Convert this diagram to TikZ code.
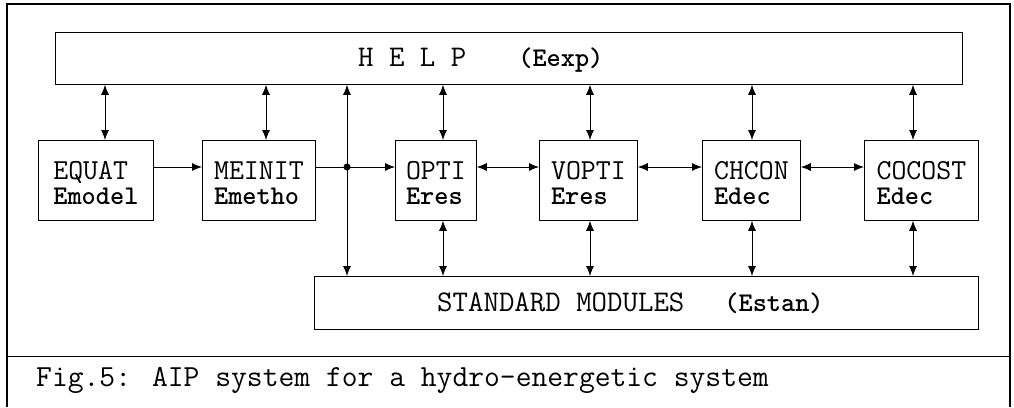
\documentclass[tikz,border=0pt]{standalone}
\usetikzlibrary{arrows.meta}
\begin{document}
\begin{tikzpicture}[x=1pt,y=-1pt,
  box/.style={draw, line width=0.8pt, inner sep=0pt, anchor=north west, align=left, font=\ttfamily\fontsize{29}{31}\selectfont},
  wide/.style={draw, line width=0.8pt, inner sep=0pt, anchor=north west},
  con/.style={line width=0.8pt, {Latex[length=10pt,width=8pt]}-{Latex[length=10pt,width=8pt]}},
  one/.style={line width=0.8pt, -{Latex[length=10pt,width=8pt]}},
  frame/.style={line width=1.4pt},
  lbl/.style={anchor=west, inner sep=0pt, font=\ttfamily\fontsize{30}{32}\selectfont},
  subt/.style={font=\ttfamily\bfseries\fontsize{27}{29}\selectfont}]
\useasboundingbox (0,0) rectangle (1014,407);
% outer frame
\coordinate (ftl) at (7,4);
\coordinate (ftr) at (1010,4);
\coordinate (fbl) at (7,407);
\coordinate (fbr) at (1010,407);
\coordinate (sl) at (7,356);
\coordinate (sr) at (1010,356);
\draw[frame] (fbl) -- (ftl) -- (ftr) -- (fbr);
\draw[line width=0.8pt] (sl) -- (sr);
% help and standard boxes
\node[wide, minimum width=907, minimum height=52] (help) at (55,32) {};
\node[lbl] (helpt) at (358,60) {H E L P\hspace{52pt}{\bfseries\fontsize{27}{29}\selectfont(Eexp)}};
\node[wide, minimum width=664, minimum height=53] (std) at (314,276) {};
\node[lbl] (stdt) at (437,303) {STANDARD MODULES\hspace{40pt}{\bfseries\fontsize{27}{29}\selectfont(Estan)}};
% module boxes
\node[box, minimum width=115, minimum height=80] (equat) at (38,140) {\rule{0pt}{24pt}EQUAT\\[-6pt]\bfseries\fontsize{27}{29}\selectfont Emodel};
\node[box, minimum width=113, minimum height=80] (meinit) at (202,140) {\rule{0pt}{24pt}MEINIT\\[-6pt]\bfseries\fontsize{27}{29}\selectfont Emetho};
\node[box, minimum width=81, minimum height=80] (opti) at (395,140) {\rule{0pt}{24pt}OPTI\\[-6pt]\bfseries\fontsize{27}{29}\selectfont Eres};
\node[box, minimum width=98, minimum height=80] (vopti) at (539,140) {\rule{0pt}{24pt}VOPTI\\[-6pt]\bfseries\fontsize{27}{29}\selectfont Eres\hspace{16pt}};
\node[box, minimum width=98, minimum height=80] (chcon) at (702,140) {\rule{0pt}{24pt}CHCON\\[-6pt]\bfseries\fontsize{27}{29}\selectfont Edec\hspace{16pt}};
\node[box, minimum width=114, minimum height=80] (cocost) at (864,140) {\rule{0pt}{24pt}COCOST\\[-6pt]\bfseries\fontsize{27}{29}\selectfont Edec\hspace{32pt}};
% x positions of vertical links
\coordinate (xa) at (105,0);
\coordinate (xb) at (266,0);
\coordinate (xj) at (347,0);
\coordinate (xc) at (443,0);
\coordinate (xd) at (590,0);
\coordinate (xe) at (752,0);
\coordinate (xf) at (913,0);
\coordinate (j) at (347,167);
% horizontal flow
\draw[one] (equat.east |- j) -- (meinit.west |- j);
\draw[line width=0.8pt] (meinit.east |- j) -- (j);
\draw[one] (j) -- (opti.west |- j);
\fill (j) circle (3.5);
\draw[con] (opti.east |- j) -- (vopti.west |- j);
\draw[con] (vopti.east |- j) -- (chcon.west |- j);
\draw[con] (chcon.east |- j) -- (cocost.west |- j);
% links to HELP
\draw[con] (help.south -| xa) -- (equat.north -| xa);
\draw[con] (help.south -| xb) -- (meinit.north -| xb);
\draw[con] (help.south -| xj) -- (std.north -| xj);
\draw[con] (help.south -| xc) -- (opti.north -| xc);
\draw[con] (help.south -| xd) -- (vopti.north -| xd);
\draw[con] (help.south -| xe) -- (chcon.north -| xe);
\draw[con] (help.south -| xf) -- (cocost.north -| xf);
% links to STANDARD MODULES
\draw[con] (opti.south -| xc) -- (std.north -| xc);
\draw[con] (vopti.south -| xd) -- (std.north -| xd);
\draw[con] (chcon.south -| xe) -- (std.north -| xe);
\draw[con] (cocost.south -| xf) -- (std.north -| xf);
% caption
\node[lbl, font=\ttfamily\fontsize{30.7}{32}\selectfont] (cap) at (36,380) {Fig.5: AIP system for a hydro-energetic system};
\end{tikzpicture}
\end{document}
